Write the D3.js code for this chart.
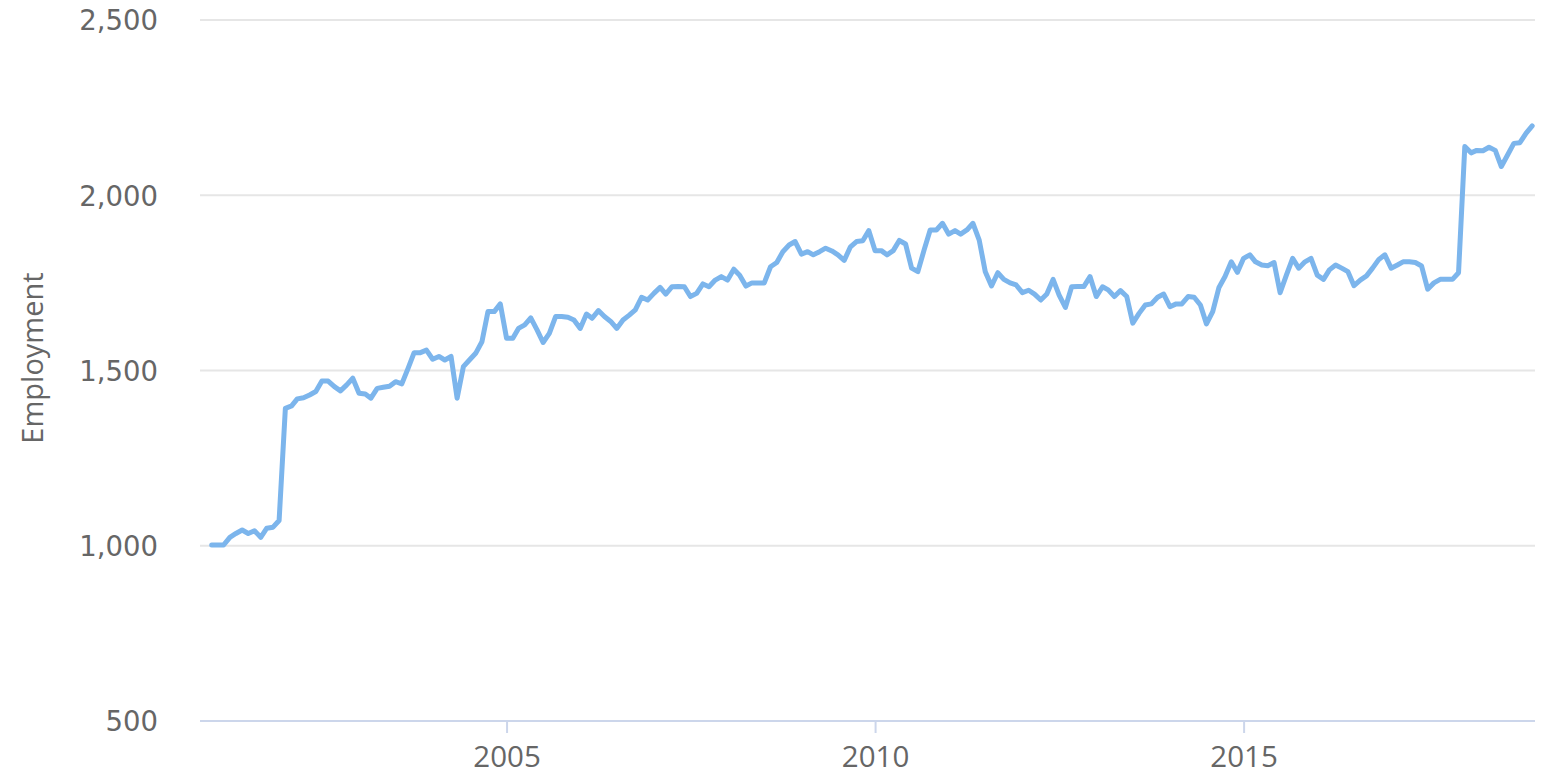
<!DOCTYPE html>
<html>
<head>
<meta charset="utf-8">
<script src="https://cdn.jsdelivr.net/npm/d3@7"></script>
<style>
  html, body { margin: 0; padding: 0; background: #fff; }
  svg { display: block; }
</style>
</head>
<body>
<svg id="chart" width="1542" height="776"></svg>
<script>
// ---- Data (monthly, Jan 2001 – Dec 2018) ----
const startMonth = "2001-01";
const employment = [
  1002, 1002, 1002, 1024, 1035, 1045, 1035, 1043, 1024, 1050, 1053, 1072,
  1392, 1399, 1419, 1422, 1430, 1440, 1470, 1470, 1454, 1442, 1459, 1478,
  1435, 1433, 1421, 1449, 1452, 1455, 1468, 1462, 1506, 1551, 1551, 1558,
  1532, 1540, 1530, 1540, 1421, 1511, 1530, 1549, 1582, 1668, 1668, 1690,
  1592, 1592, 1620, 1630, 1650, 1616, 1580, 1606, 1654, 1654, 1652, 1644,
  1620, 1661, 1649, 1671, 1654, 1640, 1620, 1644, 1658, 1673, 1709, 1701,
  1720, 1737, 1718, 1739, 1740, 1739, 1711, 1720, 1747, 1739, 1758, 1768,
  1758, 1789, 1772, 1741, 1750, 1750, 1750, 1796, 1808, 1839, 1858, 1868,
  1832, 1839, 1830, 1839, 1849, 1841, 1830, 1814, 1853, 1868, 1870, 1899,
  1842, 1842, 1830, 1842, 1871, 1861, 1792, 1782, 1844, 1901, 1901, 1920,
  1889, 1899, 1889, 1901, 1920, 1872, 1782, 1741, 1779, 1760, 1750, 1744,
  1722, 1729, 1718, 1701, 1718, 1760, 1715, 1680, 1739, 1740, 1740, 1768,
  1711, 1739, 1730, 1711, 1728, 1711, 1635, 1663, 1687, 1690, 1709, 1718,
  1682, 1690, 1690, 1711, 1709, 1687, 1633, 1668, 1737, 1768, 1810, 1780,
  1820, 1830, 1810, 1801, 1799, 1808, 1722, 1772, 1820, 1792, 1810, 1820,
  1772, 1760, 1787, 1801, 1792, 1782, 1742, 1758, 1770, 1792, 1817, 1830,
  1792, 1801, 1810, 1810, 1808, 1798, 1732, 1750, 1760, 1760, 1760, 1779,
  2139, 2121, 2128, 2127, 2137, 2128, 2082, 2115, 2148, 2150, 2177, 2198
];
const yTicks = [500, 1000, 1500, 2000, 2500];
const xTickYears = [2005, 2010, 2015];
const yTitle = "Employment";

// ---- Layout ----
const svg = d3.select("#chart");
const plotLeft = 200, plotRight = 1535, plotTop = 20, plotBottom = 721;

const parseMonth = d3.timeParse("%Y-%m");
const t0 = parseMonth(startMonth);
const data = employment.map((v, i) => ({ date: d3.timeMonth.offset(t0, i), value: v }));

const x = d3.scaleTime()
  .domain([data[0].date, data[data.length - 1].date])
  .range([211.7, 1532.2]);
const y = d3.scaleLinear().domain([500, 2500]).range([plotBottom, plotTop]);

// Gridlines
svg.append("g")
  .selectAll("line")
  .data(yTicks.filter(d => d !== 500))
  .join("line")
  .attr("x1", plotLeft).attr("x2", plotRight)
  .attr("y1", d => y(d)).attr("y2", d => y(d))
  .attr("stroke", "#e6e6e6").attr("stroke-width", 2);

// Y axis labels
const yAxis = d3.axisLeft(y).tickValues(yTicks).tickSize(0).tickPadding(0)
  .tickFormat(d3.format(","));
const gy = svg.append("g").attr("transform", `translate(158,0)`).call(yAxis);
gy.select(".domain").remove();
gy.selectAll("text")
  .attr("font-family", "'DejaVu Sans', Verdana, sans-serif")
  .attr("font-size", 27.5)
  .attr("fill", "#666666")
  .attr("dy", "0.36em");

// X axis
const xAxis = d3.axisBottom(x)
  .tickValues(xTickYears.map(yr => new Date(yr, 0, 1)))
  .tickFormat(d3.timeFormat("%Y"))
  .tickSize(12).tickPadding(0);
const gx = svg.append("g").attr("transform", `translate(0,${plotBottom})`).call(xAxis);
gx.select(".domain").remove();
gx.append("line")
  .attr("x1", plotLeft).attr("x2", plotRight)
  .attr("y1", 0).attr("y2", 0)
  .attr("stroke", "#ccd6eb").attr("stroke-width", 2);
gx.selectAll(".tick line").attr("stroke", "#ccd6eb").attr("stroke-width", 2);
gx.selectAll("text")
  .attr("font-family", "'Open Sans', sans-serif")
  .attr("font-size", 29.5)
  .attr("fill", "#666666")
  .attr("y", 46)
  .attr("dy", 0);

// Y title
svg.append("text")
  .attr("transform", `translate(43,358) rotate(-90)`)
  .attr("text-anchor", "middle")
  .attr("font-family", "'Open Sans', sans-serif")
  .attr("font-size", 29)
  .attr("fill", "#666666")
  .text(yTitle);

// Line
const line = d3.line().x(d => x(d.date)).y(d => y(d.value));
svg.append("path")
  .datum(data)
  .attr("d", line)
  .attr("fill", "none")
  .attr("stroke", "#7cb5ec")
  .attr("stroke-width", 5)
  .attr("stroke-linejoin", "round")
  .attr("stroke-linecap", "round");
</script>
</body>
</html>
